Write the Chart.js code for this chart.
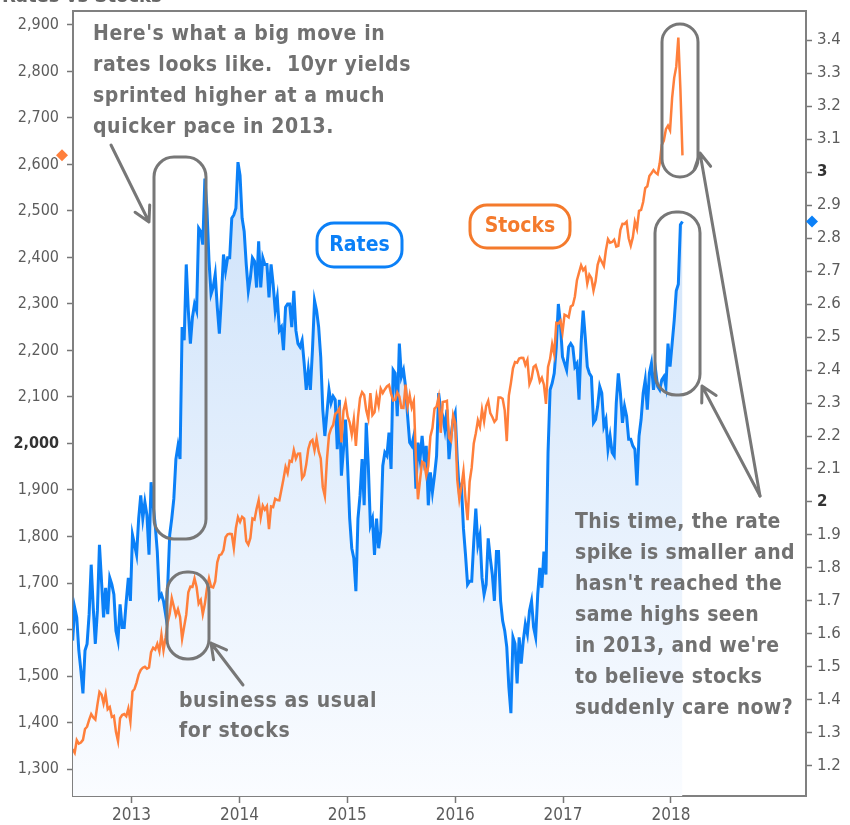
<!DOCTYPE html>
<html>
<head>
<meta charset="utf-8">
<script src="https://cdn.jsdelivr.net/npm/chart.js@4.4.1/dist/chart.umd.min.js"></script>
<style>
  html, body { margin: 0; padding: 0; background: #fff; }
  canvas { display: block; }
</style>
</head>
<body>
<canvas id="ratesChart" width="850" height="825"></canvas>
<script>
// weekly closes (Fridays), first week is 8 June 2012
const firstWeek = '2012-06-08';

// S&P 500
const spx2012 = [1325.7, 1342.8, 1335.0, 1362.2, 1354.7, 1356.8, 1362.7, 1386.0, 1391.0, 1405.9, 1418.2, 1411.1, 1406.6, 1437.9, 1465.8, 1460.2, 1440.7, 1460.9, 1428.6, 1433.2, 1411.9, 1414.2, 1379.9, 1359.9, 1409.2, 1416.2, 1418.1, 1413.6, 1430.2, 1402.4];
const spx2013 = [1466.5, 1472.1, 1486.0, 1503.0, 1513.2, 1517.9, 1519.8, 1515.6, 1518.2, 1551.2, 1560.7, 1556.9, 1569.2, 1553.3, 1588.9, 1555.3, 1582.2, 1614.4, 1633.7, 1667.5, 1649.6, 1630.7, 1643.4, 1626.7, 1580.0, 1606.3, 1631.9, 1680.2, 1692.1, 1691.7, 1709.7, 1691.4, 1655.8, 1663.5, 1633.0, 1655.2, 1688.0, 1709.9, 1691.8, 1690.5, 1703.2, 1744.5, 1759.8, 1761.6, 1770.6, 1798.2, 1804.8, 1805.8, 1805.1, 1775.3, 1818.3, 1841.4];
const spx2014 = [1831.4, 1842.4, 1838.7, 1790.3, 1782.6, 1797.0, 1838.6, 1836.3, 1859.5, 1878.0, 1841.1, 1866.5, 1857.6, 1865.1, 1815.7, 1864.9, 1863.4, 1881.1, 1878.5, 1877.9, 1900.5, 1923.6, 1949.4, 1936.2, 1962.9, 1961.0, 1985.4, 1967.6, 1978.2, 1978.3, 1925.2, 1931.6, 1955.1, 1988.4, 2003.4, 2007.7, 1985.5, 2010.4, 1982.9, 1967.9, 1906.1, 1886.8, 1964.6, 2018.1, 2031.9, 2039.8, 2063.5, 2067.6, 2075.4, 2002.3, 2070.7, 2088.8];
const spx2015 = [2058.2, 2044.8, 2019.4, 2051.8, 1995.0, 2055.5, 2097.0, 2110.3, 2104.5, 2071.3, 2053.4, 2108.1, 2061.0, 2067.0, 2102.1, 2081.2, 2117.7, 2108.3, 2116.1, 2122.7, 2126.1, 2107.4, 2092.8, 2094.1, 2110.0, 2101.5, 2076.8, 2076.6, 2126.6, 2079.7, 2103.8, 2077.6, 2091.5, 1970.9, 1880.0, 1921.2, 1961.1, 1958.1, 1931.3, 1951.4, 2014.9, 2033.1, 2075.2, 2079.4, 2099.2, 2023.0, 2089.2, 2090.1, 2091.7, 2012.4, 2005.6, 2061.0];
const spx2016 = [2043.9, 1922.0, 1880.3, 1906.9, 1940.2, 1880.1, 1835.0, 1917.8, 1948.1, 2000.0, 2022.2, 2049.6, 2035.9, 2072.8, 2047.6, 2080.7, 2091.6, 2065.3, 2057.1, 2046.6, 2052.3, 2099.1, 2099.1, 2096.1, 2071.2, 2005.0, 2103.0, 2129.9, 2161.7, 2175.0, 2173.6, 2182.9, 2184.1, 2183.9, 2169.0, 2180.0, 2127.8, 2139.2, 2164.7, 2168.3, 2153.7, 2133.0, 2141.2, 2126.4, 2085.2, 2164.5, 2181.9, 2213.4, 2192.0, 2259.5, 2258.1, 2263.8, 2238.8];
const spx2017 = [2277.0, 2274.6, 2271.3, 2294.7, 2297.4, 2316.1, 2351.2, 2367.3, 2383.1, 2372.6, 2378.3, 2344.0, 2362.7, 2355.5, 2329.0, 2348.7, 2384.2, 2399.3, 2390.9, 2381.7, 2415.8, 2439.1, 2431.8, 2433.2, 2438.3, 2423.4, 2425.2, 2459.3, 2472.5, 2472.1, 2476.8, 2441.3, 2425.6, 2443.1, 2476.6, 2461.4, 2500.2, 2502.2, 2519.4, 2549.3, 2553.2, 2575.2, 2581.1, 2587.8, 2582.3, 2578.9, 2602.4, 2642.2, 2651.5, 2675.8, 2683.3, 2673.6];
const spx2018 = [2743.2, 2786.2, 2810.3, 2872.9, 2762.1, 2619.6];

// 10yr Treasury yield, %
const tnx2012 = [1.64, 1.58, 1.68, 1.65, 1.55, 1.49, 1.42, 1.55, 1.57, 1.66, 1.81, 1.68, 1.57, 1.67, 1.87, 1.76, 1.65, 1.74, 1.66, 1.77, 1.75, 1.72, 1.61, 1.58, 1.69, 1.62, 1.62, 1.70, 1.77, 1.70];
const tnx2013 = [1.90, 1.87, 1.84, 1.95, 2.02, 1.95, 2.00, 1.96, 1.84, 2.06, 1.99, 1.93, 1.85, 1.71, 1.72, 1.70, 1.66, 1.74, 1.90, 1.95, 2.01, 2.13, 2.17, 2.13, 2.53, 2.49, 2.72, 2.58, 2.48, 2.56, 2.60, 2.58, 2.83, 2.82, 2.78, 2.98, 2.89, 2.73, 2.63, 2.65, 2.69, 2.59, 2.51, 2.62, 2.75, 2.70, 2.74, 2.74, 2.86, 2.87, 2.89, 3.03];
const tnx2014 = [2.99, 2.86, 2.82, 2.72, 2.64, 2.68, 2.74, 2.73, 2.65, 2.79, 2.65, 2.74, 2.72, 2.72, 2.62, 2.72, 2.66, 2.58, 2.62, 2.52, 2.53, 2.46, 2.59, 2.60, 2.60, 2.53, 2.64, 2.52, 2.48, 2.47, 2.49, 2.42, 2.34, 2.40, 2.34, 2.46, 2.61, 2.58, 2.53, 2.44, 2.28, 2.20, 2.27, 2.34, 2.30, 2.32, 2.31, 2.16, 2.31, 2.08, 2.16, 2.25];
const tnx2015 = [2.11, 1.95, 1.86, 1.83, 1.73, 1.95, 2.02, 2.13, 1.99, 2.24, 2.11, 1.93, 1.95, 1.84, 1.95, 1.86, 1.91, 2.11, 2.15, 2.14, 2.21, 2.10, 2.40, 2.39, 2.26, 2.48, 2.38, 2.40, 2.35, 2.26, 2.18, 2.17, 2.20, 2.04, 2.18, 2.13, 2.20, 2.13, 2.17, 1.99, 2.09, 2.03, 2.08, 2.14, 2.33, 2.28, 2.26, 2.22, 2.28, 2.13, 2.20, 2.25];
const tnx2016 = [2.27, 2.13, 2.03, 2.05, 1.92, 1.84, 1.75, 1.76, 1.76, 1.88, 1.98, 1.87, 1.90, 1.77, 1.72, 1.75, 1.89, 1.83, 1.78, 1.70, 1.85, 1.85, 1.70, 1.64, 1.61, 1.56, 1.44, 1.36, 1.59, 1.57, 1.45, 1.59, 1.51, 1.58, 1.63, 1.60, 1.67, 1.70, 1.62, 1.59, 1.72, 1.80, 1.74, 1.85, 1.78, 2.15, 2.34, 2.36, 2.39, 2.47, 2.60, 2.54, 2.44];
const tnx2017 = [2.42, 2.40, 2.47, 2.48, 2.47, 2.41, 2.42, 2.31, 2.48, 2.58, 2.50, 2.41, 2.39, 2.38, 2.24, 2.25, 2.29, 2.35, 2.33, 2.23, 2.25, 2.16, 2.20, 2.15, 2.14, 2.30, 2.39, 2.33, 2.24, 2.29, 2.26, 2.19, 2.19, 2.17, 2.16, 2.05, 2.20, 2.25, 2.33, 2.37, 2.28, 2.39, 2.42, 2.34, 2.40, 2.35, 2.34, 2.37, 2.38, 2.35, 2.48, 2.41];
const tnx2018 = [2.48, 2.55, 2.64, 2.66, 2.84, 2.85];

// axis ticks
const yearTicks = [2013, 2014, 2015, 2016, 2017, 2018];
const stockTicks = [1300, 1400, 1500, 1600, 1700, 1800, 1900, 2000, 2100, 2200, 2300, 2400, 2500, 2600, 2700, 2800, 2900];
const rateTicks = [1.2, 1.3, 1.4, 1.5, 1.6, 1.7, 1.8, 1.9, 2, 2.1, 2.2, 2.3, 2.4, 2.5, 2.6, 2.7, 2.8, 2.9, 3, 3.1, 3.2, 3.3, 3.4];

const spx = [].concat(spx2012, spx2013, spx2014, spx2015, spx2016, spx2017, spx2018);
const tnx = [].concat(tnx2012, tnx2013, tnx2014, tnx2015, tnx2016, tnx2017, tnx2018);

// date -> decimal year, so the x axis can be linear
function toYear(ms) {
    const y = new Date(ms).getUTCFullYear();
    const a = Date.UTC(y, 0, 1), b = Date.UTC(y + 1, 0, 1);
    return y + (ms - a) / (b - a);
}
const t0 = Date.parse(firstWeek + 'T00:00:00Z');
const weekX = spx.map((v, i) => toYear(t0 + i * 7 * 86400000));

const GRAY = '#717171';
const BLUE = '#0b80f7';
const ORANGE = '#ff7f3b';
const noteFont = 'bold 21px "DejaVu Sans Condensed", "DejaVu Sans", sans-serif';

function roundBox(ctx, x, y, w, h, r) {
    ctx.beginPath();
    ctx.moveTo(x + r, y);
    ctx.lineTo(x + w - r, y);
    ctx.arcTo(x + w, y, x + w, y + r, r);
    ctx.lineTo(x + w, y + h - r);
    ctx.arcTo(x + w, y + h, x + w - r, y + h, r);
    ctx.lineTo(x + r, y + h);
    ctx.arcTo(x, y + h, x, y + h - r, r);
    ctx.lineTo(x, y + r);
    ctx.arcTo(x, y, x + r, y, r);
    ctx.closePath();
    ctx.stroke();
}

function arrow(ctx, x1, y1, x2, y2) {
    // open arrow head at (x2, y2)
    const ang = Math.atan2(y2 - y1, x2 - x1);
    const len = 17, spread = 0.5;
    ctx.beginPath();
    ctx.moveTo(x1, y1);
    ctx.lineTo(x2, y2);
    ctx.moveTo(x2 - len * Math.cos(ang - spread), y2 - len * Math.sin(ang - spread));
    ctx.lineTo(x2, y2);
    ctx.lineTo(x2 - len * Math.cos(ang + spread), y2 - len * Math.sin(ang + spread));
    ctx.stroke();
}

function textLines(ctx, lines, x, y, step) {
    lines.forEach((s, i) => ctx.fillText(s, x, y + i * step));
}

// annotations, frame, last value markers
const notesPlugin = {
    id: 'notes',
    afterDatasetsDraw(chart) {
        const ctx = chart.ctx;
        const area = chart.chartArea;
        ctx.save();

        // top border of the plot
        ctx.strokeStyle = '#808080';
        ctx.lineWidth = 2;
        ctx.beginPath();
        ctx.moveTo(area.left, area.top);
        ctx.lineTo(area.right, area.top);
        ctx.stroke();

        ctx.strokeStyle = '#777';
        ctx.lineWidth = 3;
        ctx.lineJoin = 'round';
        ctx.lineCap = 'round';
        roundBox(ctx, 154, 157, 52, 382, 20);
        roundBox(ctx, 167, 572, 42, 87, 20);
        roundBox(ctx, 662, 24, 36, 153, 18);
        roundBox(ctx, 655, 212, 45, 183, 21);

        arrow(ctx, 111, 145, 149, 222);
        arrow(ctx, 243, 685, 211, 643);
        arrow(ctx, 760, 496, 700, 153);
        arrow(ctx, 760, 496, 702, 386);

        // series labels
        ctx.lineWidth = 3;
        ctx.strokeStyle = BLUE;
        roundBox(ctx, 317, 223, 85, 44, 17);
        ctx.strokeStyle = '#f47a2c';
        roundBox(ctx, 470, 205, 100, 43, 17);
        ctx.font = noteFont;
        ctx.textAlign = 'center';
        ctx.textBaseline = 'middle';
        ctx.fillStyle = BLUE;
        ctx.fillText('Rates', 359.5, 246);
        ctx.fillStyle = '#f47a2c';
        ctx.fillText('Stocks', 520, 227);

        ctx.textAlign = 'left';
        ctx.textBaseline = 'alphabetic';
        ctx.fillStyle = GRAY;
        ctx.letterSpacing = '0.6px';
        textLines(ctx, ["Here's what a big move in", 'rates looks like.  10yr yields',
            'sprinted higher at a much', 'quicker pace in 2013.'], 93, 40, 31);
        textLines(ctx, ['business as usual', 'for stocks'], 179, 707, 30);
        ctx.letterSpacing = '0.4px';
        textLines(ctx, ['This time, the rate', 'spike is smaller and', "hasn't reached the",
            'same highs seen', "in 2013, and we're", 'to believe stocks',
            'suddenly care now?'], 575, 528, 31);
        ctx.letterSpacing = '0px';
        ctx.restore();
    },
    afterDraw(chart) {
        const ctx = chart.ctx;
        const area = chart.chartArea;
        const yS = chart.scales.yStocks, yR = chart.scales.yRates;
        const diamond = (x, y, color) => {
            ctx.fillStyle = color;
            ctx.beginPath();
            ctx.moveTo(x, y - 6);
            ctx.lineTo(x + 6, y);
            ctx.lineTo(x, y + 6);
            ctx.lineTo(x - 6, y);
            ctx.closePath();
            ctx.fill();
        };
        ctx.save();
        diamond(area.left - 11, yS.getPixelForValue(spx[spx.length - 1]), ORANGE);
        diamond(area.right + 6, yR.getPixelForValue(tnx[tnx.length - 1]), BLUE);
        // clipped title at the very top
        ctx.font = 'bold 18px "DejaVu Sans", sans-serif';
        ctx.fillStyle = '#666';
        ctx.fillText('Rates vs Stocks', 2, 2);
        ctx.restore();
    }
};

const isBold = (c) => c.tick && (c.tick.value === 2000 || c.tick.value === 2 || c.tick.value === 3);
const tickFont = (family, size) => (c) => ({ family: family, size: size, weight: isBold(c) ? 'bold' : 'normal' });
const tickColor = (c) => isBold(c) ? '#333' : '#5c5c5c';
const noPad = (s) => { s.paddingTop = 0; s.paddingBottom = 0; s.paddingLeft = 0; s.paddingRight = 0; };

new Chart(document.getElementById('ratesChart'), {
    type: 'line',
    data: {
        datasets: [{
            label: 'Stocks',
            data: spx.map((v, i) => ({ x: weekX[i], y: v })),
            yAxisID: 'yStocks',
            borderColor: ORANGE,
            borderWidth: 2.5,
            pointRadius: 0,
            tension: 0,
            fill: false
        }, {
            label: 'Rates',
            data: tnx.map((v, i) => ({ x: weekX[i], y: v })),
            yAxisID: 'yRates',
            borderColor: BLUE,
            borderWidth: 3,
            pointRadius: 0,
            tension: 0,
            fill: 'start',
            backgroundColor: (c) => {
                const area = c.chart.chartArea;
                if (!area) return 'rgba(200,222,249,0.5)';
                const g = c.chart.ctx.createLinearGradient(0, area.top, 0, area.bottom);
                g.addColorStop(0, '#c4dcf8');
                g.addColorStop(0.35, '#d6e7fb');
                g.addColorStop(1, '#fafcff');
                return g;
            }
        }]
    },
    options: {
        responsive: false,
        animation: false,
        devicePixelRatio: 1,
        layout: { padding: { top: 11, left: 0, right: 0, bottom: 0 } },
        plugins: { legend: { display: false }, tooltip: { enabled: false } },
        scales: {
            x: {
                type: 'linear',
                min: 2012.457,
                max: 2019.252,
                afterBuildTicks: (s) => { s.ticks = yearTicks.map(v => ({ value: v })); },
                afterFit: (s) => { s.height = 29; noPad(s); },
                ticks: {
                    callback: (v) => String(v),
                    autoSkip: false,
                    maxRotation: 0,
                    padding: 2,
                    color: '#5c5c5c',
                    font: { family: '"DejaVu Sans Condensed", sans-serif', size: 17 }
                },
                grid: { drawOnChartArea: false, tickLength: 7, tickColor: '#777', tickWidth: 1.5 },
                border: { color: '#808080', width: 2 }
            },
            yStocks: {
                position: 'left',
                min: 1242,
                max: 2930,
                afterBuildTicks: (s) => { s.ticks = stockTicks.map(v => ({ value: v })); },
                afterFit: (s) => { s.width = 73; noPad(s); },
                ticks: {
                    callback: (v) => v.toLocaleString('en-US'),
                    padding: 8,
                    color: tickColor,
                    font: tickFont('"DejaVu Sans Condensed", sans-serif', 16)
                },
                grid: { drawOnChartArea: false, tickLength: 6, tickColor: '#777', tickWidth: 1.5 },
                border: { color: '#808080', width: 2 }
            },
            yRates: {
                position: 'right',
                min: 1.109,
                max: 3.488,
                afterBuildTicks: (s) => { s.ticks = rateTicks.map(v => ({ value: v })); },
                afterFit: (s) => { s.width = 44; noPad(s); },
                ticks: {
                    callback: (v) => Number.isInteger(v) ? String(v) : v.toFixed(1),
                    padding: 5,
                    color: tickColor,
                    font: tickFont('"DejaVu Sans", sans-serif', 15)
                },
                grid: { drawOnChartArea: false, tickLength: 6, tickColor: '#777', tickWidth: 1.5 },
                border: { color: '#808080', width: 2 }
            }
        }
    },
    plugins: [notesPlugin]
});
</script>
</body>
</html>
